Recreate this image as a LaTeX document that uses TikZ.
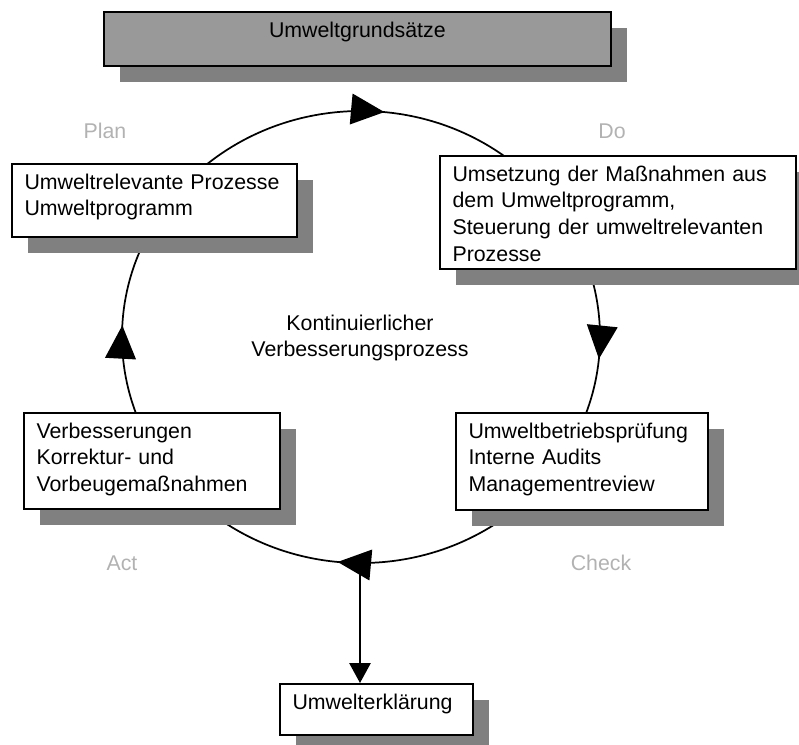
\documentclass[tikz,border=0pt]{standalone}
\usepackage{fontspec}
\setmainfont{Liberation Sans}
\usepackage{tikz}
\usetikzlibrary{positioning,shadows,arrows.meta,decorations.markings}
\tikzset{
    procbox/.style={
        rectangle,
        draw=black,
        line width=1.3pt,
        fill=white,
        anchor=north west,
        align=left,
        inner xsep=9.5pt,
        inner ysep=7pt,
        text height=12pt,
        drop shadow={shadow xshift=12pt, shadow yshift=-12pt, fill=black!50, opacity=1}
    },
    phase/.style={
        text=black!30
    },
    cyclepath/.style={
        line width=1.3pt,
        postaction={decorate},
        decoration={markings,
            mark=at position 0.015 with {\arrow{Triangle[length=25pt,width=23pt]}},
            mark=at position 0.266 with {\arrow{Triangle[length=25pt,width=23pt]}},
            mark=at position 0.508 with {\arrow{Triangle[length=25pt,width=23pt]}},
            mark=at position 0.766 with {\arrow{Triangle[length=25pt,width=23pt]}}}
    },
    arrow/.style={
        -{Triangle[length=15pt,width=16pt]},
        line width=1.3pt
    }
}

\begin{document}
\begin{tikzpicture}[x=0.75pt, y=-0.75pt, font=\fontsize{16}{20}\selectfont]
    \useasboundingbox (0,0) rectangle (799,744);
    \draw [cyclepath] (361,337) ellipse [x radius=239, y radius=226];
    \coordinate (cyclebottom) at (360,563);
    \node (grund) [procbox, fill=black!40, align=center, text width=361.25pt, text depth=14.5pt] at (103,11) {Umweltgrundsätze};
    \node (plan) [procbox, text width=194.75pt, text depth=28.75pt] at (11,163) {Umweltrelevante Prozesse\\Umweltprogramm};
    \node (do) [procbox, text width=248pt, text depth=58.75pt] at (439,155) {Umsetzung der Maßnahmen aus\\dem Umweltprogramm,\\Steuerung der umweltrelevanten\\Prozesse};
    \node (act) [procbox, text width=173pt, text depth=46pt] at (23,412) {Verbesserungen\\Korrektur- und\\Vorbeugemaßnahmen};
    \node (check) [procbox, text width=170pt, text depth=46.75pt] at (455,412) {Umweltbetriebsprüfung\\Interne Audits\\Managementreview};
    \node (erkl) [procbox, text width=125.75pt, text depth=12.25pt] at (279,683) {Umwelterklärung};
    \node (kvp) [align=center] at (360,338) {Kontinuierlicher\\Verbesserungsprozess};
    \node (planlabel) [phase] at (105,131) {Plan};
    \node (dolabel) [phase] at (612,131) {Do};
    \node (actlabel) [phase] at (122,563) {Act};
    \node (checklabel) [phase] at (601,563) {Check};
    \draw [arrow] (cyclebottom) -- (cyclebottom |- erkl.north);
\end{tikzpicture}
\end{document}
